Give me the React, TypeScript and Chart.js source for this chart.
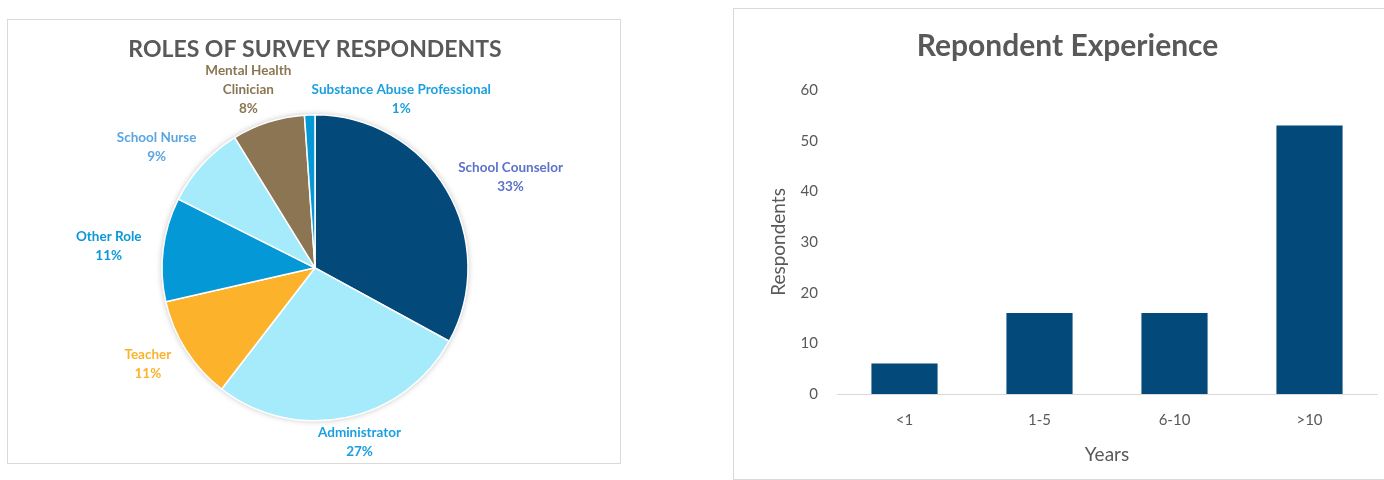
import React, { useEffect, useRef } from 'react';
import { Chart, registerables } from 'chart.js';

Chart.register(...registerables);

// ---------- Pie data ----------
const pieLabels = [
  'School Counselor',
  'Administrator',
  'Teacher',
  'Other Role',
  'School Nurse',
  'Mental Health Clinician',
  'Substance Abuse Professional',
];
const pieLabelLines = [
  ['School Counselor'],
  ['Administrator'],
  ['Teacher'],
  ['Other Role'],
  ['School Nurse'],
  ['Mental Health', 'Clinician'],
  ['Substance Abuse Professional'],
];
const pieCounts = [30, 25, 10, 10, 8, 7, 1];
const pieColors = ['#03497A', '#A5EBFC', '#FDB22B', '#0598D6', '#A5EBFC', '#8B7552', '#0598D6'];
const pieLabelColors = ['#5B72C9', '#1A9FE0', '#FDB22B', '#0A98D8', '#5AA5E2', '#8B7552', '#1A9FE0'];

// ---------- Bar data ----------
const barCategories = ['<1', '1-5', '6-10', '>10'];
const barValues = [6, 16, 16, 53];
const yMin = 0;
const yMax = 60;
const yStep = 10;

const GRAY = '#595959';
const FONT = 'Lato';

const pieShadowPlugin = {
  id: 'pieShadow',
  beforeDatasetsDraw(chart: any) {
    const meta = chart.getDatasetMeta(0);
    const arc = meta.data[0];
    if (!arc) return;
    const { x, y, outerRadius } = arc.getProps(['x', 'y', 'outerRadius'], true);
    const ctx = chart.ctx;
    ctx.save();
    ctx.shadowColor = 'rgba(0,0,0,0.28)';
    ctx.shadowBlur = 6;
    ctx.beginPath();
    ctx.arc(x, y, outerRadius, 0, Math.PI * 2);
    ctx.fillStyle = '#ffffff';
    ctx.fill();
    ctx.restore();
  },
};

const pieLabelPlugin = {
  id: 'pieOutLabels',
  afterDatasetsDraw(chart: any) {
    const meta = chart.getDatasetMeta(0);
    const ctx = chart.ctx;
    const data = chart.data.datasets[0].data as number[];
    const total = data.reduce((a: number, b: number) => a + b, 0);
    ctx.save();
    ctx.font = `bold 13.5px ${FONT}`;
    const lineH = 19;
    const gapX = 22;
    const gapY = 6;
    const margin = 18;
    const placed: any[] = [];
    meta.data.forEach((arc: any, i: number) => {
      const { x, y, startAngle, endAngle, outerRadius } = arc.getProps(
        ['x', 'y', 'startAngle', 'endAngle', 'outerRadius'],
        true
      );
      const lines = [...pieLabelLines[i], Math.round((data[i] / total) * 100) + '%'];
      const w = Math.max(...lines.map((l) => ctx.measureText(l).width));
      const h = lines.length * lineH;
      let ang = (startAngle + endAngle) / 2;
      let box: any = null;
      for (let k = 0; k < 150; k++) {
        const dx = Math.cos(ang);
        const dy = Math.sin(ang);
        const cx = x + dx * (outerRadius + gapX) + (dx * w) / 2;
        const cy = y + dy * (outerRadius + gapY) + (dy * h) / 2;
        box = { l: cx - w / 2, r: cx + w / 2, t: cy - h / 2, b: cy + h / 2, cx, cy };
        const hit = placed.some(
          (p) =>
            !(box.r + margin < p.l || box.l - margin > p.r || box.b < p.t || box.t > p.b)
        );
        if (!hit) break;
        ang += Math.PI / 180;
      }
      placed.push(box);
      ctx.fillStyle = pieLabelColors[i];
      ctx.textAlign = 'center';
      ctx.textBaseline = 'middle';
      lines.forEach((l, j) => ctx.fillText(l, box.cx, box.t + lineH * (j + 0.5)));
    });
    ctx.restore();
  },
};

export default function App() {
  const pieRef = useRef<HTMLCanvasElement>(null);
  const barRef = useRef<HTMLCanvasElement>(null);

  useEffect(() => {
    Chart.defaults.font.family = FONT;
    Chart.defaults.color = GRAY;

    const pie = new Chart(pieRef.current as HTMLCanvasElement, {
      type: 'pie',
      data: {
        labels: pieLabels,
        datasets: [
          {
            data: pieCounts,
            backgroundColor: pieColors,
            borderColor: '#ffffff',
            borderWidth: 1.5,
            hoverOffset: 0,
          },
        ],
      },
      options: {
        animation: false,
        responsive: false,
        maintainAspectRatio: false,
        radius: 153,
        layout: { padding: { left: 2, right: 0, top: 0, bottom: 1.2 } },
        plugins: {
          legend: { display: false },
          tooltip: { enabled: false },
          title: {
            display: true,
            text: 'ROLES OF SURVEY RESPONDENTS',
            color: GRAY,
            font: { family: FONT, size: 23, weight: 'bold' },
            padding: { top: 16.2, bottom: 10 },
          },
        },
      } as any,
      plugins: [pieShadowPlugin, pieLabelPlugin],
    });

    const bar = new Chart(barRef.current as HTMLCanvasElement, {
      type: 'bar',
      data: {
        labels: barCategories,
        datasets: [
          {
            data: barValues,
            backgroundColor: '#03497A',
            categoryPercentage: 1,
            barPercentage: 0.49,
          },
        ],
      },
      options: {
        animation: false,
        responsive: false,
        maintainAspectRatio: false,
        layout: { padding: { left: 24, right: 24, top: 0, bottom: 0 } },
        plugins: {
          legend: { display: false },
          tooltip: { enabled: false },
          title: {
            display: true,
            text: 'Repondent Experience',
            color: GRAY,
            font: { family: FONT, size: 30, weight: 'bold' },
            padding: { top: 19, bottom: 26 },
          },
        },
        scales: {
          x: {
            grid: { display: false, drawTicks: false },
            border: { display: true, color: '#D9D9D9', width: 1 },
            ticks: { color: GRAY, font: { family: FONT, size: 15 }, padding: 17 },
            title: {
              display: true,
              text: 'Years',
              color: GRAY,
              font: { family: FONT, size: 19 },
              padding: { top: 0, bottom: 12.6 },
            },
            afterFit: (s: any) => {
              s.height = 85;
            },
          },
          y: {
            min: yMin,
            max: yMax,
            grid: { display: false, drawTicks: false },
            border: { display: false },
            ticks: { stepSize: yStep, color: GRAY, font: { family: FONT, size: 15 }, padding: 19 },
            title: {
              display: true,
              text: 'Respondents',
              color: GRAY,
              font: { family: FONT, size: 19 },
              padding: { top: 9.6, bottom: 0 },
            },
            afterFit: (s: any) => {
              s.width = 79;
            },
          },
        },
      } as any,
    });

    return () => {
      pie.destroy();
      bar.destroy();
    };
  }, []);

  return (
    <div
      style={{
        position: 'absolute',
        left: 0,
        top: 0,
        width: 1384,
        height: 480,
        overflow: 'hidden',
        background: '#ffffff',
      }}
    >
      <div
        style={{
          position: 'absolute',
          left: 7,
          top: 19,
          width: 612,
          height: 443,
          border: '1px solid #D9D9D9',
        }}
      >
        <canvas ref={pieRef} width={612} height={443} style={{ display: 'block' }} />
      </div>
      <div
        style={{
          position: 'absolute',
          left: 733,
          top: 8,
          width: 667,
          height: 470,
          border: '1px solid #D9D9D9',
        }}
      >
        <canvas ref={barRef} width={667} height={470} style={{ display: 'block' }} />
      </div>
    </div>
  );
}
